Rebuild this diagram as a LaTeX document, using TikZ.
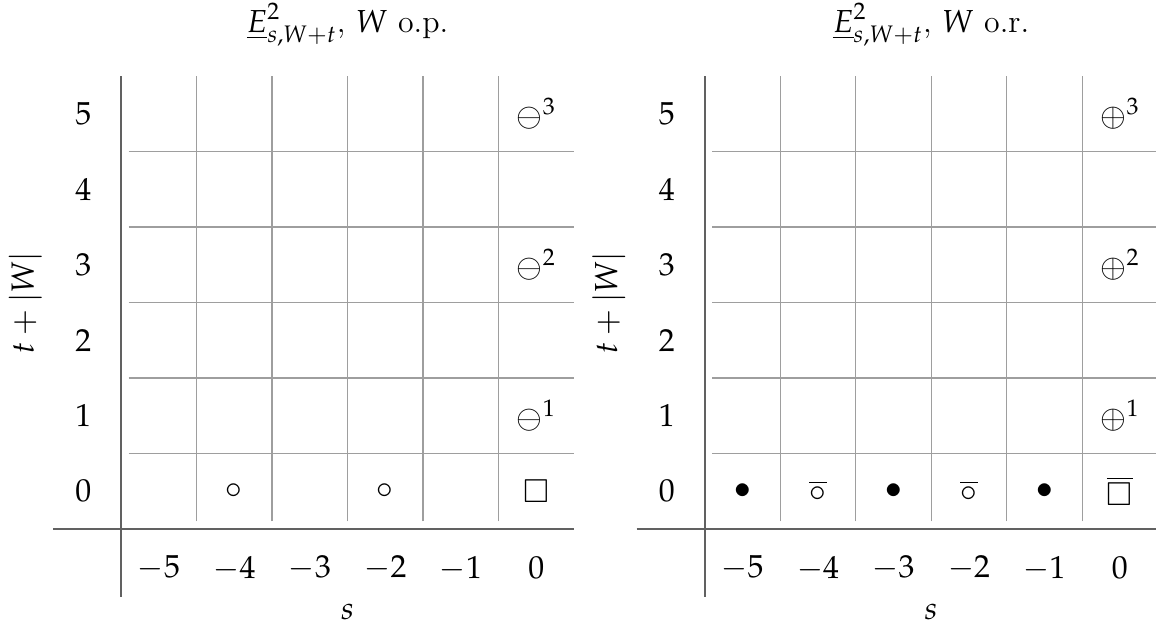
\documentclass[tikz,border=0pt]{standalone}
\usepackage{amsmath,amssymb}
\usepackage{mathpazo}
\begin{document}
\begin{tikzpicture}[x=1cm,y=1cm,
  axisline/.style={draw=black!62, line width=0.75pt},
  gridline/.style={draw=black!38, line width=0.4pt},
  lbl/.style={font=\fontsize{12}{14}\selectfont, inner sep=0pt},
  entry/.style={font=\fontsize{12}{14}\selectfont, inner sep=0pt}]
\useasboundingbox (-1.603,-1.325) rectangle (13.709,7.007);

\newcommand{\specgrid}[3]{%
  \begin{scope}[xshift=#1cm]
    \foreach \i in {1,...,5} \draw[gridline] (\i,0.1) -- (\i,6);
    \foreach \j in {1,...,5} \draw[gridline] (0.1,\j) -- (6,\j);
    \draw[axisline] (0,-0.9) -- (0,6);
    \draw[axisline] (-0.9,0) -- (6,0);
    \foreach \j in {0,...,5} \node[lbl] (y#3\j) at (-0.5,\j+0.5) {$\j$};
    \foreach \i [evaluate=\i as \v using int(\i-5)] in {0,...,5}
      \node[lbl] (x#3\i) at (\i+0.5,-0.52) {$\v$};
    \node[lbl] (s#3) at (3,-1.1) {$s$};
    \node[lbl, rotate=90] (t#3) at (-1.27,3) {$t+|W|$};
    \node[lbl] (title#3) at (3,6.68) {#2};
  \end{scope}}

\specgrid{0}{$\underline{E}^2_{s,W+t}$, $W$ o.p.}{L}
\specgrid{7.73}{$\underline{E}^2_{s,W+t}$, $W$ o.r.}{R}

% left entries
\node[entry] (L40) at (1.5,0.5) {$\circ$};
\node[entry] (L20) at (3.5,0.5) {$\circ$};
\node[entry] (L00) at (5.5,0.5) {$\square$};
\node[entry] (L01) at (5.5,1.5) {$\ominus^1$};
\node[entry] (L03) at (5.5,3.5) {$\ominus^2$};
\node[entry] (L05) at (5.5,5.5) {$\ominus^3$};

% right entries
\begin{scope}[xshift=7.73cm]
\node[entry] (R50) at (0.5,0.5) {$\bullet$};
\node[entry] (R40) at (1.5,0.5) {$\overline{\circ}$};
\node[entry] (R30) at (2.5,0.5) {$\bullet$};
\node[entry] (R20) at (3.5,0.5) {$\overline{\circ}$};
\node[entry] (R10) at (4.5,0.5) {$\bullet$};
\node[entry] (R00) at (5.5,0.5) {$\overline{\square}$};
\node[entry] (R01) at (5.5,1.5) {$\oplus^1$};
\node[entry] (R03) at (5.5,3.5) {$\oplus^2$};
\node[entry] (R05) at (5.5,5.5) {$\oplus^3$};
\end{scope}
\end{tikzpicture}
\end{document}
